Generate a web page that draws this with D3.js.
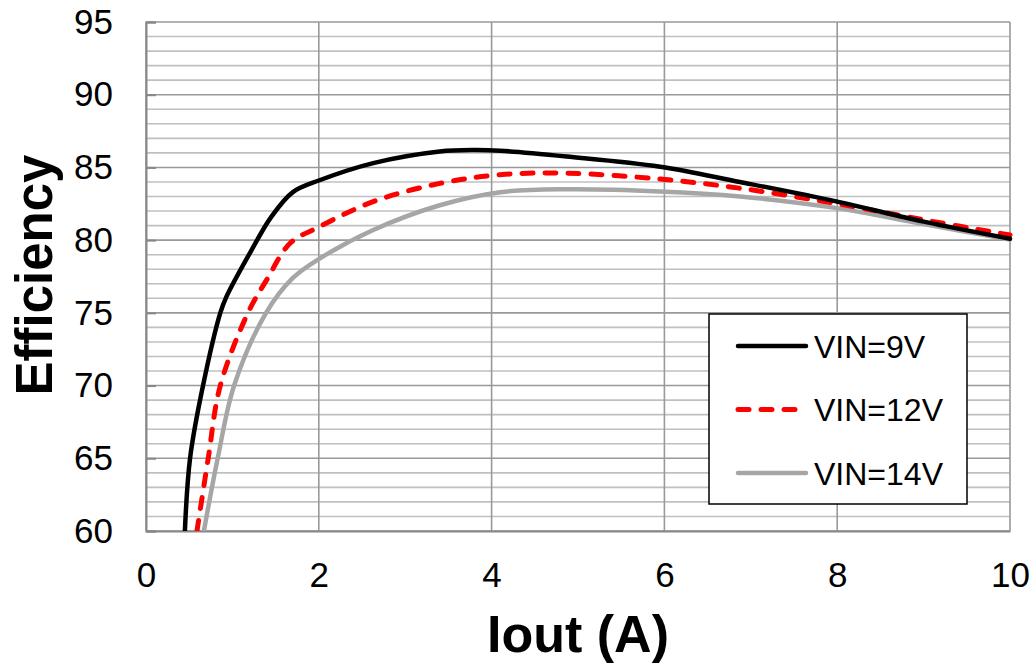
<!DOCTYPE html>
<html>
<head>
<meta charset="utf-8">
<script src="https://cdn.jsdelivr.net/npm/d3@7"></script>
<style>
    body { margin: 0; background: #fff; }
    svg { display: block; font-family: "Liberation Sans", Arial, sans-serif; }
</style>
</head>
<body>
<svg class="main" width="1034" height="665"></svg>
<script>
// values (Iout in A, efficiency in %)
var iout9 = [0.45, 0.51, 0.66, 0.86, 0.93, 1.22, 1.45, 1.7, 2.0, 2.63, 3.4, 3.8, 4.1, 4.87, 5.95, 6.875, 8.0, 9.0, 10];
var eff9 = [60, 65, 70, 75, 76.1, 79.3, 81.6, 83.3, 84.1, 85.3, 86.1, 86.2, 86.15, 85.75, 85.05, 84.0, 82.65, 81.27, 80.1];

var iout12 = [0.59, 0.72, 0.86, 1.18, 1.4, 1.67, 2.0, 2.63, 3.4, 4.1, 4.87, 5.95, 6.875, 8.0, 9.0, 10];
var eff12 = [60, 65, 70, 75, 77.3, 79.8, 80.9, 82.65, 83.9, 84.5, 84.6, 84.2, 83.57, 82.5, 81.4, 80.35];

var iout14 = [0.67, 0.83, 1.02, 1.39, 1.7, 2.0, 2.63, 3.4, 4.1, 4.87, 5.95, 6.875, 8.0, 9.0, 10];
var eff14 = [60, 65, 70, 75, 77.4, 78.7, 80.7, 82.4, 83.3, 83.5, 83.35, 83.0, 82.2, 81.1, 80.05];

var seriesNames = ["VIN=9V", "VIN=12V", "VIN=14V"];
var xTicks = [0, 2, 4, 6, 8, 10];
var yTicks = [60, 65, 70, 75, 80, 85, 90, 95];

var margin = { left: 146, top: 22, right: 24, bottom: 134 },
    width = 1034 - margin.left - margin.right,
    height = 665 - margin.top - margin.bottom,
    main = d3.select(".main");

var x = d3.scaleLinear().domain([0, 10]).range([0, width]),
    y = d3.scaleLinear().domain([60, 95]).range([height, 0]);

var g = main.append("g")
    .attr("transform", "translate(" + margin.left + "," + margin.top + ")");

// minor horizontal grid every 1%
g.append("g")
    .selectAll("line")
    .data(d3.range(61, 95).filter(function(v) { return v % 5 !== 0; }))
    .enter().append("line")
    .attr("x1", 0).attr("x2", width)
    .attr("y1", function(d) { return y(d); })
    .attr("y2", function(d) { return y(d); })
    .attr("stroke", "#c0c0c0")
    .attr("stroke-width", 1.6);

// major grid
g.append("g")
    .selectAll("line")
    .data(yTicks)
    .enter().append("line")
    .attr("x1", 0).attr("x2", width)
    .attr("y1", function(d) { return y(d); })
    .attr("y2", function(d) { return y(d); })
    .attr("stroke", "#999")
    .attr("stroke-width", 1.6);

g.append("g")
    .selectAll("line")
    .data(xTicks)
    .enter().append("line")
    .attr("x1", function(d) { return x(d); })
    .attr("x2", function(d) { return x(d); })
    .attr("y1", 0).attr("y2", height)
    .attr("stroke", "#999")
    .attr("stroke-width", 1.6);

// axes
var yAxis = g.append("g")
    .call(d3.axisLeft(y).tickValues(yTicks).tickSize(-10).tickPadding(33));
var xAxis = g.append("g")
    .attr("transform", "translate(0," + height + ")")
    .call(d3.axisBottom(x).tickValues(xTicks).tickSize(0).tickPadding(31));

[yAxis, xAxis].forEach(function(ax) {
    ax.select(".domain").attr("stroke", "#888").attr("stroke-width", 2);
    ax.selectAll(".tick line").attr("stroke", "#888").attr("stroke-width", 2);
    ax.selectAll("text")
        .attr("font-family", "Liberation Sans, Arial, sans-serif")
        .attr("font-size", 35)
        .attr("fill", "#000");
});
xAxis.selectAll("text").attr("dy", "0.71em");

// curves
var line = d3.line()
    .x(function(d) { return x(d[0]); })
    .y(function(d) { return y(d[1]); })
    .curve(d3.curveCatmullRom.alpha(0.5));

var series = [
    { name: seriesNames[0], pts: d3.zip(iout9, eff9), color: "#000", w: 4.5, dash: null },
    { name: seriesNames[1], pts: d3.zip(iout12, eff12), color: "#ff0000", w: 5, dash: "11,12" },
    { name: seriesNames[2], pts: d3.zip(iout14, eff14), color: "#a6a6a6", w: 4.5, dash: null }
];

g.append("defs").append("clipPath").attr("id", "plot")
    .append("rect").attr("width", width + 4).attr("height", height);

var curves = g.append("g").attr("clip-path", "url(#plot)");
series.slice().reverse().forEach(function(s) {
    curves.append("path")
        .attr("d", line(s.pts))
        .attr("fill", "none")
        .attr("stroke", s.color)
        .attr("stroke-width", s.w)
        .attr("stroke-linecap", "round")
        .attr("stroke-linejoin", "round")
        .attr("stroke-dasharray", s.dash);
});

// legend
var legend = main.append("g").attr("transform", "translate(709,314)");
legend.append("rect")
    .attr("width", 258).attr("height", 190)
    .attr("fill", "#fff")
    .attr("stroke", "#000")
    .attr("stroke-width", 1.5);

series.forEach(function(s, i) {
    var ly = 32 + i * 63.5;
    legend.append("line")
        .attr("x1", 29).attr("x2", 97)
        .attr("y1", ly).attr("y2", ly)
        .attr("stroke", s.color)
        .attr("stroke-width", s.w)
        .attr("stroke-linecap", "round")
        .attr("stroke-dasharray", s.dash);
    legend.append("text")
        .attr("x", 105).attr("y", ly)
        .attr("dy", "0.36em")
        .attr("font-size", 32)
        .text(s.name);
});

// axis titles
main.append("text")
    .attr("x", margin.left + width / 2 - 0)
    .attr("y", 652)
    .attr("text-anchor", "middle")
    .attr("font-weight", "bold")
    .attr("font-size", 52)
    .text("Iout (A)");

main.append("text")
    .attr("transform", "translate(52,275) rotate(-90)")
    .attr("text-anchor", "middle")
    .attr("font-weight", "bold")
    .attr("font-size", 51)
    .text("Efficiency");
</script>
</body>
</html>
